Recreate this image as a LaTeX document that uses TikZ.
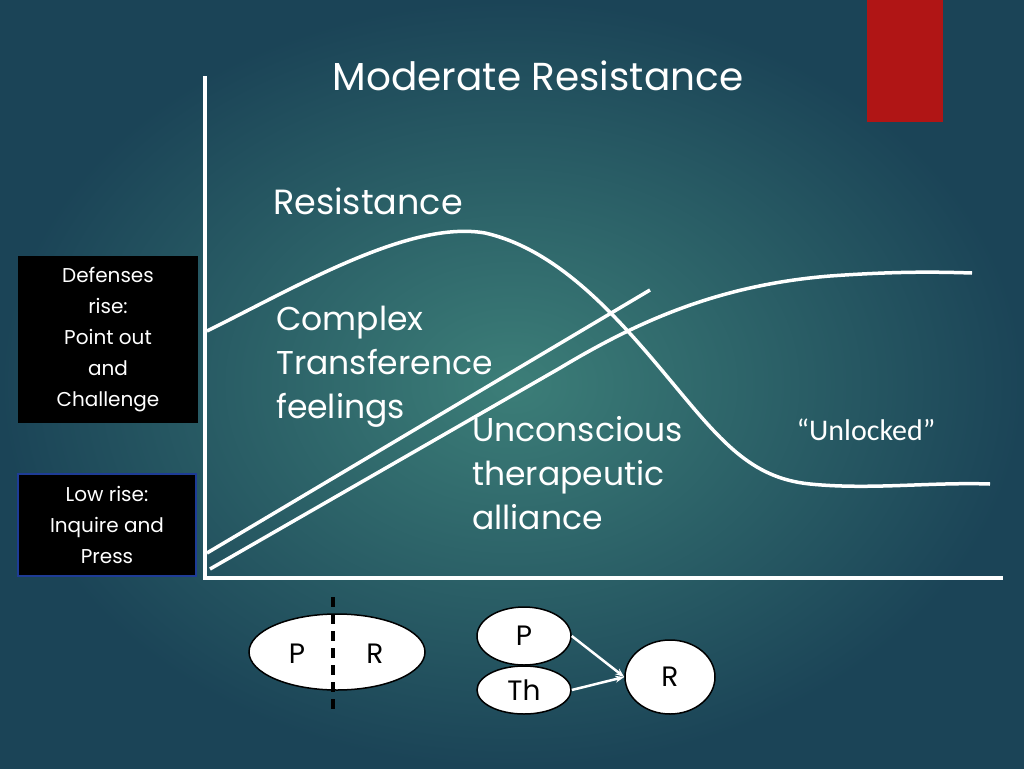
\documentclass[tikz,border=0pt]{standalone}
\usepackage{fontspec}
\setmainfont{Poppins}
\newfontfamily\calfont{Carlito}
\usetikzlibrary{shapes.geometric,arrows.meta}
\definecolor{bgin}{HTML}{3C7E78}
\definecolor{bgout}{HTML}{1B4457}
\definecolor{redbox}{HTML}{B01515}
\tikzset{
 curve/.style={white,line width=3.5pt},
 lbl/.style={white,font=\fontsize{33}{44}\selectfont,align=left,anchor=north west,inner sep=0pt},
 sidebox/.style={fill=black,text=white,font=\fontsize{20}{31}\selectfont,align=center,inner sep=0pt},
 bub/.style={ellipse,draw=black,fill=white,line width=1.5pt,font=\fontsize{28}{30}\selectfont},
 arr/.style={white,line width=2.5pt,-{Stealth[length=9pt]}}
}
\begin{document}
\begin{tikzpicture}[x=1pt,y=-1pt]
\useasboundingbox (0,0) rectangle (1024,768);
\shade[inner color=bgin,outer color=bgout] (0,0) rectangle (1024,768);
\fill[redbox] (867,0) rectangle (943,122);
\node[white,font=\fontsize{39}{44}\selectfont] (title) at (538,76) {Moderate Resistance};
\coordinate (o) at (205,578);
\coordinate (ytop) at (205,76);
\coordinate (xend) at (1003,578);
\draw[white,line width=4pt] (ytop) -- (o) -- (xend);
\node[white,font=\fontsize{35}{40}\selectfont] (res) at (368,201) {Resistance};
\draw[curve] (207,331) .. controls (300,285) and (410,220) .. (485,233)
  .. controls (560,250) and (620,320) .. (670,380)
  .. controls (720,440) and (750,478) .. (810,484)
  .. controls (870,490) and (930,482) .. (990,484);
\coordinate (l1a) at (207,553); \coordinate (l1b) at (650,290);
\draw[curve] (l1a) -- (l1b);
\draw[curve] (210,569) -- (560,368) .. controls (640,320) and (720,285) .. (830,276) .. controls (900,271) and (940,272) .. (972,273);
\node[lbl] (ctf) at (276,306) {Complex\\Transference\\feelings};
\node[lbl] (uta) at (472,416) {Unconscious\\therapeutic\\alliance};
\node[white,font=\calfont\fontsize{30}{34}\selectfont] (unl) at (866,430) {“Unlocked”};
\node[sidebox,minimum width=180pt,minimum height=167pt] (b1) at (108,339.5) {Defenses\\rise:\\Point out\\and\\Challenge};
\node[sidebox,draw={rgb,255:red,30;green,60;blue,150},line width=1.2pt,minimum width=178pt,minimum height=102pt] (b2) at (107,525) {Low rise:\\Inquire and\\Press};
\node[bub,minimum width=176pt,minimum height=76pt] (pr) at (337,652) {};
\node[font=\fontsize{28}{30}\selectfont] (prp) at (297,654) {P};
\node[font=\fontsize{28}{30}\selectfont] (prr) at (375,654) {R};
\coordinate (dt) at (333,597); \coordinate (db) at (333,710);
\draw[black,line width=3.5pt,dash pattern=on 10pt off 7pt] (dt) -- (db);
\node[bub,minimum width=94pt,minimum height=58pt] (p) at (524,636) {P};
\node[bub,minimum width=94pt,minimum height=48pt] (th) at (524,690) {Th};
\node[bub,minimum width=90pt,minimum height=74pt] (r) at (670,677) {R};
\draw[arr] (p.east) -- (r.west);
\draw[arr] (th.east) -- (r.west);
\end{tikzpicture}
\end{document}
